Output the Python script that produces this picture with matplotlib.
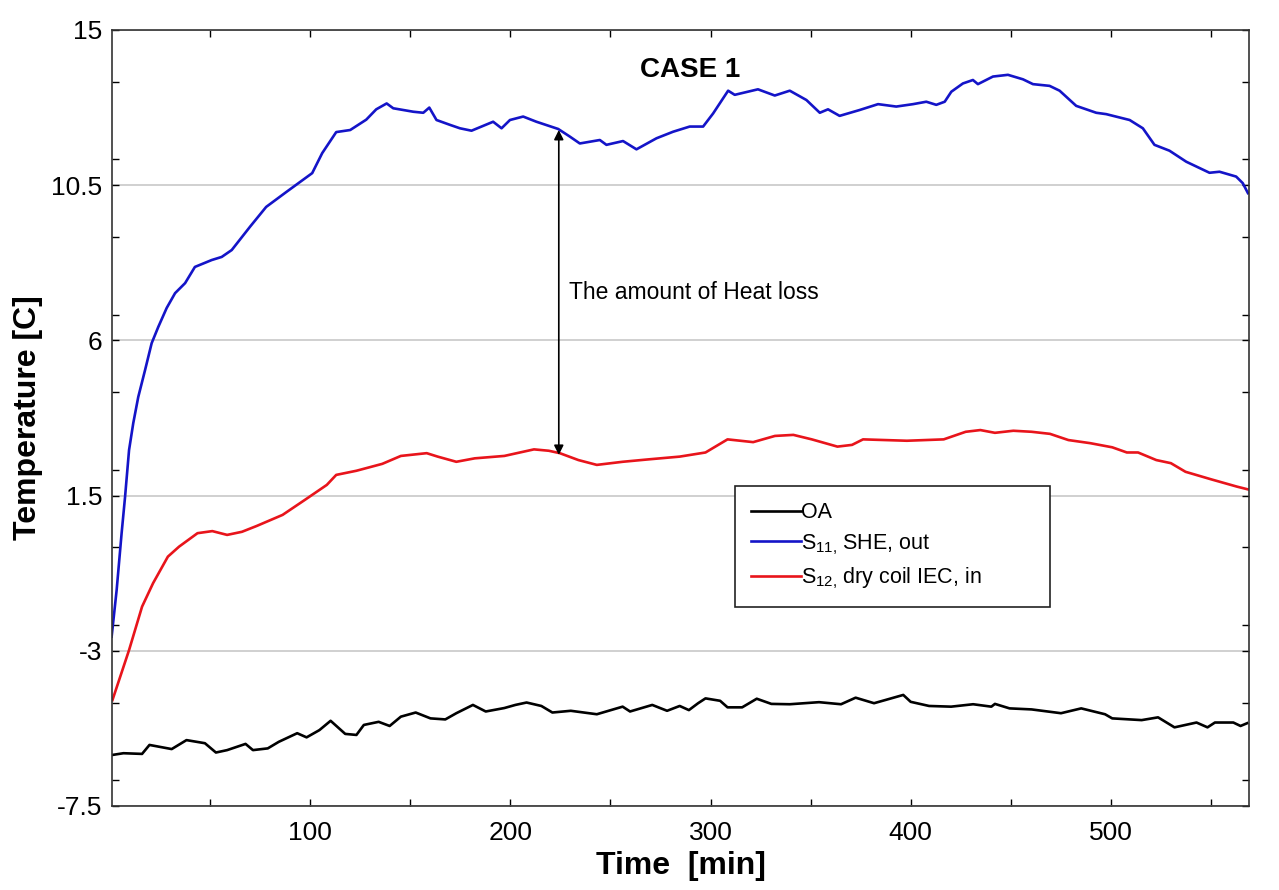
import numpy as np
import matplotlib.pyplot as plt
from matplotlib.ticker import MultipleLocator, FixedLocator

plt.rcParams['font.family'] = ['Liberation Sans', 'DejaVu Sans']
plt.rcParams['mathtext.fontset'] = 'custom'
plt.rcParams['mathtext.rm'] = 'Liberation Sans'
plt.rcParams['mathtext.it'] = 'Liberation Sans'

# data (time in min, temperature in C)
t_s11 = [0.8, 3.3, 5.8, 7.5, 9.5, 11.6, 14.1, 17.5, 20.8, 24.1, 28.3, 32.5, 37.5, 42.4, 50.8,
         55.8, 60.8, 70, 78, 88, 101, 106, 113, 120, 128, 133, 138.2, 141.5, 151.5, 156.5,
         159.5, 163.1, 169.8, 174.8, 180.6, 191.4, 195.6, 199.8, 206.4, 213, 223.9, 229.7,
         234.7, 244.7, 248, 256.3, 263, 273, 281.3, 289.6, 296.3, 301.3, 308.8, 312.1, 323.7,
         332.1, 339.6, 347.9, 354.6, 358.7, 364.5, 374.5, 383.7, 392.8, 401.2, 407.8, 412.8,
         417, 420.3, 426.1, 431.1, 433.6, 441.1, 448.6, 456.1, 461.1, 469.4, 474.4, 482.7,
         492.7, 497.7, 509.4, 516, 521.8, 529.3, 537.7, 549.3, 554.3, 562.6, 565.9, 568.5]
T_s11 = [-2.59, -1.24, 0.42, 1.46, 2.82, 3.6, 4.36, 5.14, 5.92, 6.39, 6.94, 7.37, 7.66, 8.13, 8.33,
         8.42, 8.62, 9.3, 9.87, 10.3, 10.85, 11.43, 12.04, 12.1, 12.4, 12.7, 12.87, 12.73, 12.63, 12.6,
         12.75, 12.39, 12.25, 12.15, 12.08, 12.34, 12.15, 12.39, 12.49, 12.34, 12.13, 11.91,
         11.71, 11.81, 11.67, 11.78, 11.54, 11.86, 12.05, 12.2, 12.2, 12.58, 13.24, 13.12, 13.28,
         13.1, 13.24, 12.97, 12.6, 12.7, 12.51, 12.68, 12.85, 12.78, 12.85, 12.92, 12.83,
         12.92, 13.21, 13.45, 13.55, 13.43, 13.65, 13.7, 13.57, 13.43, 13.38, 13.24, 12.8,
         12.6, 12.56, 12.39, 12.15, 11.67, 11.5, 11.18, 10.86, 10.89, 10.75, 10.56, 10.27]

t_s12 = [1.2, 9.5, 16, 21.5, 28.9, 34.5, 43.7, 51.1, 58.5, 65.9, 73.3, 86.2, 97.2, 108.3, 113,
         123.1, 136, 145.3, 158.2, 163.7, 173, 182.2, 197, 211.8, 219.2, 224.7, 234, 243.2,
         256.1, 269, 284.6, 297.5, 308.5, 321.3, 332.2, 341.4, 350.6, 363.4, 370.7, 376.2,
         398.1, 416.5, 427.5, 434.8, 442.1, 451.3, 460.4, 469.6, 478.8, 489.7, 500.7, 508,
         513.6, 522.7, 530, 537.3, 550.2, 563, 568.5]
T_s12 = [-4.43, -2.98, -1.72, -1.04, -0.27, 0.02, 0.41, 0.47, 0.36, 0.45, 0.62, 0.94, 1.37, 1.81, 2.1,
         2.22, 2.42, 2.65, 2.73, 2.63, 2.48, 2.58, 2.65, 2.84, 2.8, 2.73, 2.53, 2.39,
         2.48, 2.55, 2.63, 2.75, 3.13, 3.05, 3.23, 3.26, 3.13, 2.92, 2.97, 3.13,
         3.09, 3.13, 3.35, 3.4, 3.32, 3.38, 3.35, 3.29, 3.11, 3.02, 2.9, 2.75,
         2.75, 2.53, 2.44, 2.19, 1.97, 1.76, 1.68]

t_oa = [1.2, 6.7, 16, 19.7, 30.8, 38.2, 47.4, 52.9, 58.5, 67.7, 71.4, 78.8, 84.3, 93.5, 98.2,
        104.6, 110.2, 117.5, 123.1, 126.8, 134.2, 139.7, 145.3, 152.7, 160.1, 167.5, 173,
        181.3, 187.7, 197, 202.5, 208.1, 215.5, 221, 230.2, 243.2, 256.1, 259.8, 270.9,
        278.3, 284.6, 289.2, 293.8, 297.5, 304.8, 308.5, 315.8, 323.1, 330.4, 339.6, 354.2,
        365.2, 372.5, 381.7, 387.2, 396.3, 400, 409.2, 420.2, 431.2, 440.3, 442.1, 449.4,
        460.4, 475.1, 485.2, 497.1, 500.7, 515.4, 523.6, 531.8, 542.8, 548.3, 552, 561.2,
        564.8, 568.1]
T_oa = [-6.02, -5.97, -5.99, -5.73, -5.85, -5.59, -5.68, -5.95, -5.88, -5.7, -5.88, -5.83, -5.64, -5.39, -5.51,
        -5.3, -5.03, -5.41, -5.44, -5.15, -5.06, -5.18, -4.91, -4.79, -4.96, -4.99, -4.81,
        -4.57, -4.76, -4.66, -4.57, -4.5, -4.6, -4.79, -4.74, -4.84, -4.62, -4.76, -4.57,
        -4.74, -4.6, -4.72, -4.52, -4.38, -4.45, -4.64, -4.64, -4.39, -4.54, -4.55, -4.49,
        -4.55, -4.36, -4.52, -4.43, -4.28, -4.48, -4.6, -4.62, -4.55, -4.62, -4.54, -4.67,
        -4.7, -4.81, -4.67, -4.84, -4.96, -5.01, -4.93, -5.22, -5.08, -5.22, -5.08, -5.08,
        -5.18, -5.1]

y_major = [-7.5, -3, 1.5, 6, 10.5, 15]
x_major = [100, 200, 300, 400, 500]

fig = plt.figure(figsize=(12.79, 8.90), dpi=100)
ax = fig.add_axes([0.0876, 0.0944, 0.8889, 0.8719])

ax.plot(t_oa, T_oa, color='black', lw=1.9, label='OA')
ax.plot(t_s11, T_s11, color='#1414c8', lw=1.9, label=r'S$_{11,}\,$SHE, out')
ax.plot(t_s12, T_s12, color='#e8141b', lw=1.9, label=r'S$_{12,}\,$dry coil IEC, in')

ax.set_xlim(1, 569)
ax.set_ylim(-7.5, 15)
ax.yaxis.set_major_locator(FixedLocator(y_major))
ax.yaxis.set_minor_locator(MultipleLocator(2.25))
ax.set_yticklabels(['-7.5', '-3', '1.5', '6', '10.5', '15'])
ax.xaxis.set_major_locator(FixedLocator(x_major))
ax.xaxis.set_minor_locator(MultipleLocator(50))
ax.tick_params(which='both', direction='in', top=True, right=True, length=5, width=1)
ax.tick_params(axis='x', labelsize=19, pad=11)
ax.tick_params(axis='y', labelsize=19, pad=7)
ax.grid(True, axis='y', which='major', color='#c8c8c8', lw=1.2)
for s in ax.spines.values():
    s.set_color('#333333')
    s.set_linewidth(1.2)

ax.set_xlabel('Time  [min]', fontsize=23, fontweight='bold', labelpad=4)
ax.set_ylabel('Temperature [C]', fontsize=23, fontweight='bold', labelpad=6)

ax.text(289.6, 13.84, 'CASE 1', fontsize=20, fontweight='bold', ha='center', va='center')

# heat loss arrow between the two supply curves
ax.annotate('', xy=(224.2, 12.1), xytext=(224.2, 2.68),
            arrowprops=dict(arrowstyle='<|-|>', color='black', lw=1.2,
                            mutation_scale=14, shrinkA=0, shrinkB=0))
ax.text(229.2, 7.4, 'The amount of Heat loss', fontsize=16.5, ha='left', va='center')

leg = ax.legend(loc='upper left', bbox_to_anchor=(0.548, 0.232, 0.277, 0.18), mode='expand',
                fontsize=15.5, handlelength=2.3, handletextpad=0.0, borderpad=0.75,
                borderaxespad=0, labelspacing=0.4, fancybox=False, framealpha=1)
leg.get_frame().set_edgecolor('#222222')
leg.get_frame().set_linewidth(1.2)
# nudge legend entries right, as in the reference
leg._legend_box.align = 'left'
leg.set_borderpad = None
for h in leg.get_lines():
    h.set_linewidth(1.9)

plt.savefig('out.png', dpi=100)
plt.close()
